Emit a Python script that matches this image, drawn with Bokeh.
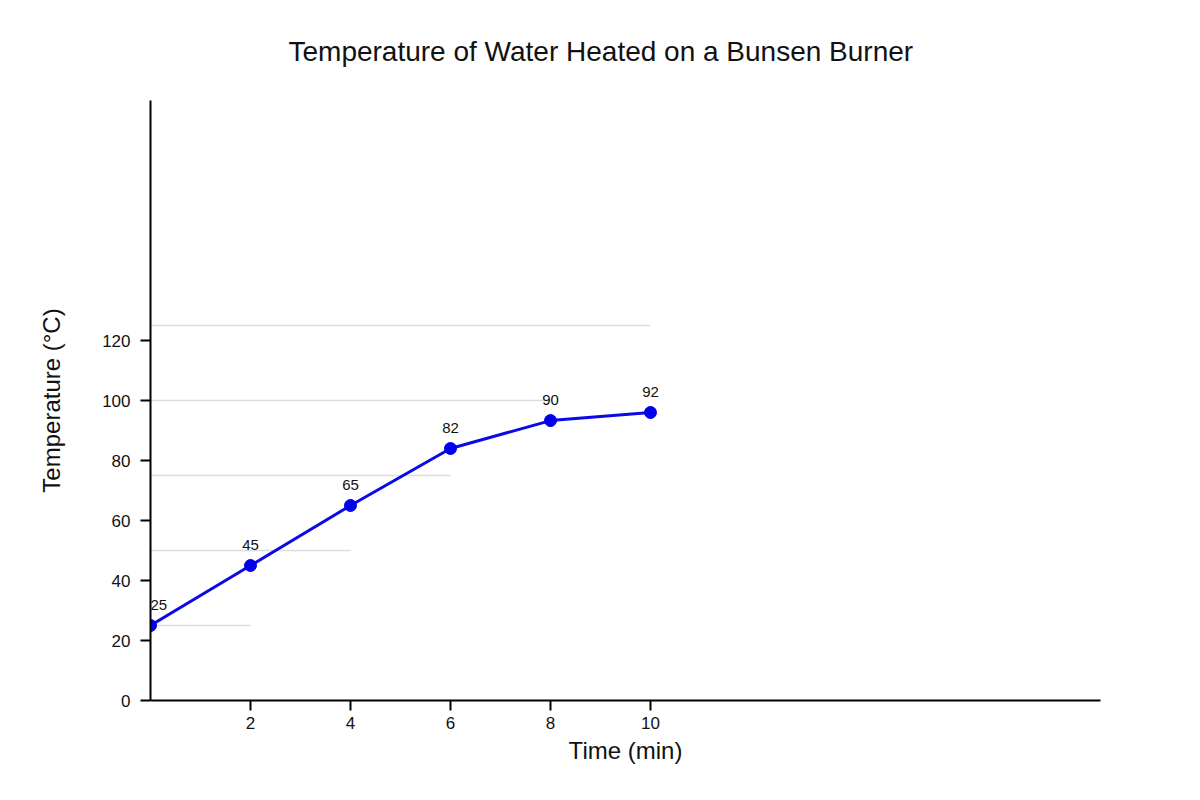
from bokeh.plotting import figure
from bokeh.models import ColumnDataSource, LabelSet, FixedTicker, Range1d
from bokeh.core.properties import value
from bokeh.embed import file_html
from bokeh.resources import INLINE

# data
time_min = [0, 2, 4, 6, 8, 10]
temp_labels = ["25", "45", "65", "82", "90", "92"]
temp_plotted = [25, 45, 65, 84, 93.3, 96]   # marker heights as drawn in the reference
grid_y = [25, 50, 75, 100, 125]
grid_x_end = [2, 4, 6, 8, 10]
x_ticks = [2, 4, 6, 8, 10]
y_ticks = [0, 20, 40, 60, 80, 100, 120]
chart_title = "Temperature of Water Heated on a Bunsen Burner"

FONT = "Liberation Sans"

p = figure(width=1184, height=784, output_backend="svg", toolbar_location=None,
           x_range=Range1d(0, 19), y_range=Range1d(0, 200),
           min_border_left=150, min_border_right=84,
           min_border_top=100, min_border_bottom=84)
p.outline_line_color = None
p.xgrid.visible = False
p.ygrid.visible = False

p.title.text = chart_title
p.title.align = "left"
p.title.offset = 138
p.title.standoff = 67
p.title.text_font = FONT
p.title.text_font_style = "normal"
p.title.text_font_size = "28px"
p.title.text_color = "#111111"

# partial gridlines
p.segment(x0=[0] * len(grid_y), y0=grid_y, x1=grid_x_end, y1=grid_y,
          line_color="#dddddd", line_width=1.5)

# first label sits on the frame edge: align it left so it is not clipped
aligns = ["left" if t == min(time_min) else "center" for t in time_min]
src = ColumnDataSource(dict(x=time_min, y=temp_plotted, lab=temp_labels, align=aligns))
p.line("x", "y", source=src, line_color="#0a0ae6", line_width=3)
p.scatter("x", "y", source=src, size=12, fill_color="#0000ee", line_color="#0000ee")
labels = LabelSet(x="x", y="y", text="lab", source=src, y_offset=16,
                  text_align="align", text_baseline="bottom",
                  text_font=value(FONT), text_font_size=value("15px"),
                  text_color="#111111")
p.add_layout(labels)

for ax in (p.xaxis[0], p.yaxis[0]):
    ax.axis_line_color = "black"
    ax.axis_line_width = 2
    ax.major_tick_line_color = "black"
    ax.major_tick_line_width = 2
    ax.major_tick_out = 10
    ax.major_tick_in = 0
    ax.minor_tick_line_color = None
    ax.major_label_text_font = FONT
    ax.major_label_text_font_size = "17px"
    ax.major_label_text_color = "#111111"
    ax.axis_label_text_font = FONT
    ax.axis_label_text_font_style = "normal"
    ax.axis_label_text_font_size = "24px"
    ax.axis_label_text_color = "#111111"

p.xaxis[0].ticker = FixedTicker(ticks=x_ticks)
p.yaxis[0].ticker = FixedTicker(ticks=y_ticks)
p.xaxis[0].axis_label = "Time (min)"
p.yaxis[0].axis_label = "Temperature (°C)"
p.xaxis[0].major_label_standoff = 6
p.yaxis[0].major_label_standoff = 10
p.xaxis[0].axis_label_standoff = 5
p.yaxis[0].axis_label_standoff = 34

open("out.html", "w").write(file_html(p, INLINE))
